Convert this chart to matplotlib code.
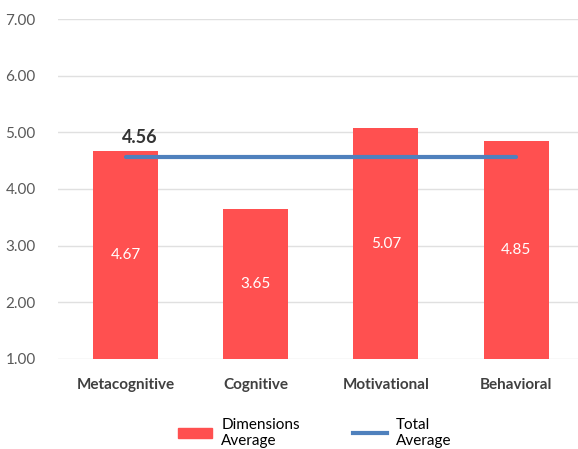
import matplotlib.pyplot as plt
from matplotlib.patches import Patch
from matplotlib.lines import Line2D

categories = ['Metacognitive', 'Cognitive', 'Motivational', 'Behavioral']
dim_avg = [4.67, 3.65, 5.07, 4.85]
total_avg = 4.56
yticks = [1, 2, 3, 4, 5, 6, 7]

plt.rcParams['font.family'] = ['Lato', 'DejaVu Sans']

fig = plt.figure(figsize=(5.78, 4.49), dpi=100)
ax = fig.add_axes([58 / 578, 1 - 359 / 449, 1 - 58 / 578 + 0.01, (359 - 19) / 449])

red = '#FF5050'
blue = '#4F81BD'
x = list(range(len(categories)))
bars = ax.bar(x, [v - 1 for v in dim_avg], bottom=1, width=0.5, color=red, zorder=2)
for xi, v in zip(x, dim_avg):
    ax.text(xi, (1 + v) / 2, '%.2f' % v, color='white', ha='center', va='center', fontsize=11)

ax.plot([x[0], x[-1]], [total_avg] * 2, color=blue, lw=3, solid_capstyle='round', zorder=3)
ax.text(x[0] + 0.11, total_avg + 0.2, '%.2f' % total_avg, color='#333333', ha='center', va='bottom',
        fontsize=13, fontweight='bold')

ax.set_xlim(-0.52, 3.52)
ax.set_ylim(1, 7)
ax.set_yticks(yticks)
ax.set_yticklabels(['%.2f' % t for t in yticks], color='#595959', fontsize=11)
ax.set_xticks(x)
ax.set_xticklabels(categories, fontsize=11, fontweight='bold', color='#404040')
ax.tick_params(length=0)
ax.tick_params(axis='x', pad=14)
ax.tick_params(axis='y', pad=16)
ax.grid(axis='y', color='#E0E0E0', lw=1, zorder=0)
for s in ax.spines.values():
    s.set_visible(False)

handles = [Patch(color=red), Line2D([0], [0], color=blue, lw=3)]
fig.legend(handles, ['Dimensions\nAverage', 'Total\nAverage'], loc='upper center',
           bbox_to_anchor=(0.545, 0.1), ncol=2, frameon=False, fontsize=11,
           handlelength=2.2, columnspacing=3.5, labelspacing=0, handletextpad=0.6)

fig.savefig('out.png', dpi=100)
